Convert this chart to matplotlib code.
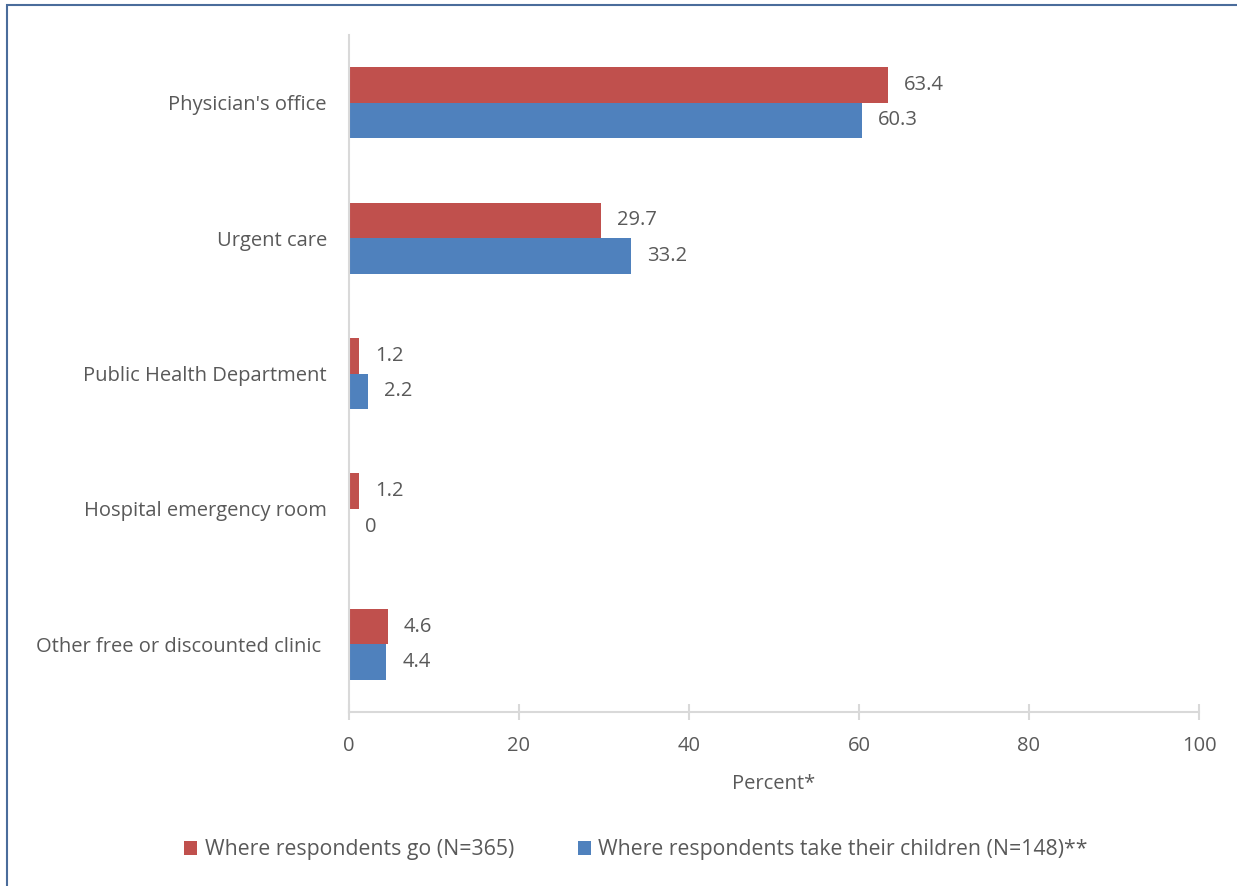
import numpy as np
import matplotlib; matplotlib.use("Agg"); import matplotlib.pyplot as plt
from matplotlib.patches import Rectangle

INK = "#595959"; AXC = "#D9D9D9"
RED = "#C0504D"; BLUE = "#4F81BD"
plt.rcParams.update({"font.family": ["Open Sans", "DejaVu Sans"], "text.color": INK,
                     "xtick.color": INK, "ytick.color": INK, "axes.labelcolor": INK})

categories = ["Physician's office", "Urgent care", "Public Health Department",
              "Hospital emergency room", "Other free or discounted clinic "]
go = [63.4, 29.7, 1.2, 1.2, 4.6]
children = [60.3, 33.2, 2.2, 0, 4.4]
series_labels = ["Where respondents go (N=365)", "Where respondents take their children (N=148)**"]
xticks = [0, 20, 40, 60, 80, 100]

W, H = 1237, 886
FS = 14.5
fig = plt.figure(figsize=(W / 100, H / 100), dpi=100)
ax = fig.add_axes([349 / W, 1 - 712 / H, 850 / W, 677 / H])

y = np.arange(len(categories))
h = 0.262
ax.barh(y - h / 2, go, height=h, color=RED, label=series_labels[0])
ax.barh(y + h / 2, children, height=h, color=BLUE, label=series_labels[1])
for yi, v in zip(y - h / 2, go):
    ax.annotate(f"{v:g}", (v, yi), xytext=(16, 0), textcoords="offset pixels",
                va="center", ha="left", fontsize=FS, color=INK)
for yi, v in zip(y + h / 2, children):
    ax.annotate(f"{v:g}", (v, yi), xytext=(16, 0), textcoords="offset pixels",
                va="center", ha="left", fontsize=FS, color=INK)

ax.set_ylim(len(categories) - 0.5, -0.5)
ax.set_xlim(0, 100)
ax.set_xticks(xticks)
ax.set_yticks(y)
ax.set_yticklabels(categories, fontsize=FS)
ax.tick_params(axis="y", length=0, pad=16)
ax.tick_params(axis="x", direction="inout", length=12, width=1.5, color=AXC, labelsize=FS, pad=11)
for s in ("top", "right"):
    ax.spines[s].set_visible(False)
for s in ("left", "bottom"):
    ax.spines[s].set_color(AXC); ax.spines[s].set_linewidth(1.5)
ax.set_xlabel("Percent*", fontsize=FS, labelpad=13)

fig.legend(loc="center", bbox_to_anchor=(636 / W, 1 - 850 / H), ncol=2, frameon=False,
           fontsize=15.3, handlelength=0.62, handleheight=0.62, handletextpad=0.35, columnspacing=3.0)

fig.patches.append(Rectangle((7 / W, -0.05), 1.1, 1 - 5 / H + 0.05, transform=fig.transFigure,
                             fill=False, edgecolor="#4A6C9B", linewidth=1.5))
fig.savefig("out.png", dpi=100)
